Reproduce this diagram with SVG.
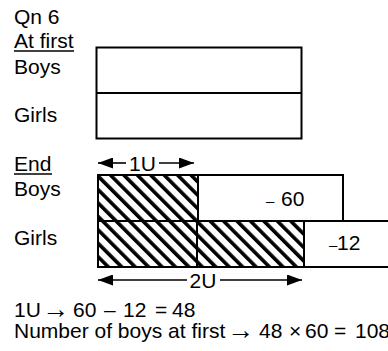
<svg xmlns="http://www.w3.org/2000/svg" width="388" height="351" viewBox="0 0 388 351">
<defs>
<style>
text{font-family:"Liberation Sans",Arial,sans-serif;font-size:21px;fill:#000}
.box{fill:#fff;stroke:#000;stroke-width:2}
.hat{fill:url(#hatch);stroke:#000;stroke-width:2}
.dim{stroke:#000;stroke-width:1.6;fill:none}
.ul{stroke:#000;stroke-width:1.5}
.sm{font-size:15px}
.ar{font-size:27px}
</style>
<pattern id="hatch" width="9.5" height="9.5" patternUnits="userSpaceOnUse" patternTransform="rotate(-45)">
<rect width="9.5" height="9.5" fill="#fff"/>
<rect x="0" y="0" width="3.6" height="9.5" fill="#000"/>
</pattern>
<marker id="ah" viewBox="0 0 15 11" refX="15" refY="5.5" markerWidth="15" markerHeight="11" markerUnits="userSpaceOnUse" orient="auto-start-reverse">
<path d="M0,0 L15,5.5 L0,11 Z" fill="#000"/>
</marker>
</defs>
<g id="labels">
<text x="14" y="24">Qn 6</text>
<text x="14" y="48">At first</text>
<line class="ul" x1="14" y1="51" x2="74" y2="51"/>
<text x="14" y="74">Boys</text>
<text x="14" y="122">Girls</text>
<text x="14" y="171">End</text>
<line class="ul" x1="14" y1="174" x2="52" y2="174"/>
<text x="14" y="196">Boys</text>
<text x="14" y="245">Girls</text>
</g>
<g id="at-first">
<rect class="box" x="96.5" y="47.5" width="205" height="91"/>
<line x1="96.5" y1="93" x2="301.5" y2="93" stroke="#000" stroke-width="2"/>
</g>
<g id="end-boys">
<rect class="hat" x="98" y="175" width="100" height="46"/>
<rect class="box" x="198" y="175" width="145" height="46"/>
<text x="266" y="206"><tspan class="sm">–</tspan><tspan x="281">60</tspan></text>
</g>
<g id="end-girls">
<rect class="hat" x="98" y="221" width="99" height="46"/>
<rect class="hat" x="197" y="221" width="107" height="46"/>
<rect class="box" x="304" y="221" width="90" height="46"/>
<text x="329" y="250"><tspan class="sm">–</tspan><tspan x="337">12</tspan></text>
</g>
<g id="connectors">
<line class="dim" x1="98" y1="163" x2="126" y2="163" marker-start="url(#ah)"/>
<line class="dim" x1="159" y1="163" x2="194" y2="163" marker-end="url(#ah)"/>
<text x="142.5" y="171" text-anchor="middle">1U</text>
<line class="dim" x1="98" y1="280" x2="187" y2="280" marker-start="url(#ah)"/>
<line class="dim" x1="220" y1="280" x2="302" y2="280" marker-end="url(#ah)"/>
<text x="203" y="288" text-anchor="middle">2U</text>
</g>
<g id="working">
<text x="14" y="317">1U<tspan class="ar" x="42" y="318">→</tspan><tspan x="73" y="317">60</tspan><tspan x="104">–</tspan><tspan x="123">12</tspan><tspan x="155">=</tspan><tspan x="172">48</tspan></text>
<text x="14" y="338">Number of boys at first<tspan class="ar" x="227" y="339">→</tspan><tspan x="259" y="338">48</tspan><tspan x="289">×</tspan><tspan x="305">60</tspan><tspan x="334">=</tspan><tspan x="355">108</tspan></text>
</g>
</svg>
